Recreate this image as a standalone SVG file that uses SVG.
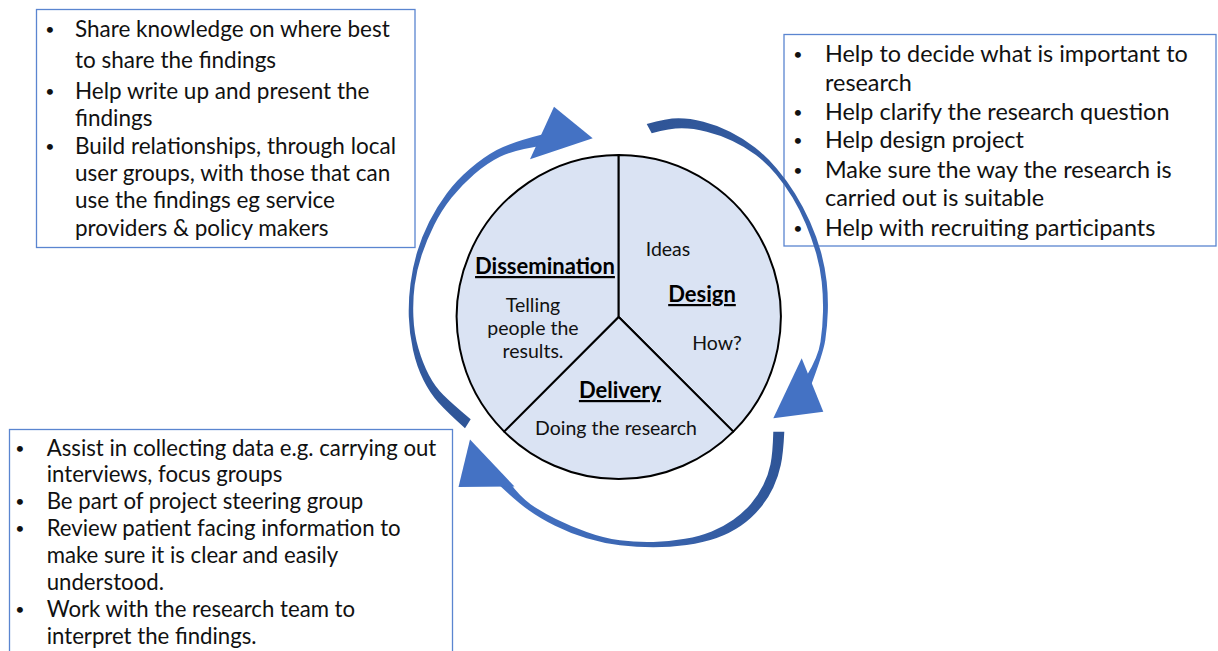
<svg xmlns="http://www.w3.org/2000/svg" width="1218" height="651" viewBox="0 0 1218 651">
<style>
.box{fill:#fff;stroke:#5a85d0;stroke-width:1.3}
.bt{font-family:Lato,"Liberation Sans",sans-serif;font-size:22.5px;fill:#111}
.b2{font-size:23.4px}
.b3{font-size:22.2px}
.bul{font-family:Lato,"Liberation Sans",sans-serif;font-size:16px;fill:#111;text-anchor:middle}
.seg{fill:#dae3f3;stroke:#000;stroke-width:2;stroke-linejoin:round}
.hd{font-family:Lato,"Liberation Sans",sans-serif;font-weight:bold;font-size:22px;text-decoration:underline;text-anchor:middle;fill:#000}
.st{font-family:Lato,"Liberation Sans",sans-serif;font-size:19.5px;text-anchor:middle;fill:#111}
.head{fill:#4472c4}
</style>
<defs>
<linearGradient id="g1" gradientUnits="userSpaceOnUse" x1="465" y1="425" x2="545" y2="140"><stop offset="0" stop-color="#2f5597"/><stop offset="1" stop-color="#4472c4"/></linearGradient>
<linearGradient id="g2" gradientUnits="userSpaceOnUse" x1="650" y1="128" x2="810" y2="385"><stop offset="0" stop-color="#2f5597"/><stop offset="1" stop-color="#4472c4"/></linearGradient>
<linearGradient id="g3" gradientUnits="userSpaceOnUse" x1="779" y1="432" x2="500" y2="485"><stop offset="0" stop-color="#2f5597"/><stop offset="1" stop-color="#4472c4"/></linearGradient>
</defs>

<g id="box-dissemination-roles">
<rect class="box" x="36.5" y="9.5" width="378.5" height="238"/>
<text class="bul" x="50" y="35">•</text>
<text class="bt" x="75" y="37">Share knowledge on where best</text>
<text class="bt" x="75" y="68">to share the findings</text>
<text class="bul" x="50" y="97">•</text>
<text class="bt" x="75" y="99">Help write up and present the</text>
<text class="bt" x="75" y="126">findings</text>
<text class="bul" x="50" y="152">•</text>
<text class="bt" x="75" y="154">Build relationships, through local</text>
<text class="bt" x="75" y="181">user groups, with those that can</text>
<text class="bt" x="75" y="208">use the findings eg service</text>
<text class="bt" x="75" y="236">providers &amp; policy makers</text>
</g>

<g id="box-design-roles">
<rect class="box" x="784" y="34.5" width="432" height="211.5"/>
<text class="bul" x="798" y="60">•</text>
<text class="bt b2" x="825" y="62">Help to decide what is important to</text>
<text class="bt b2" x="825" y="90.5">research</text>
<text class="bul" x="798" y="117.5">•</text>
<text class="bt b2" x="825" y="119.5">Help clarify the research question</text>
<text class="bul" x="798" y="146.3">•</text>
<text class="bt b2" x="825" y="148.3">Help design project</text>
<text class="bul" x="798" y="175.5">•</text>
<text class="bt b2" x="825" y="177.5">Make sure the way the research is</text>
<text class="bt b2" x="825" y="206">carried out is suitable</text>
<text class="bul" x="798" y="233.5">•</text>
<text class="bt b2" x="825" y="235.5">Help with recruiting participants</text>
</g>

<g id="box-delivery-roles">
<rect class="box" x="9.5" y="429.5" width="443" height="235"/>
<text class="bul" x="20" y="454">•</text>
<text class="bt b3" x="46.7" y="456">Assist in collecting data e.g. carrying out</text>
<text class="bt b3" x="46.7" y="482">interviews, focus groups</text>
<text class="bul" x="20" y="507">•</text>
<text class="bt b3" x="46.7" y="509">Be part of project steering group</text>
<text class="bul" x="20" y="534">•</text>
<text class="bt b3" x="46.7" y="536">Review patient facing information to</text>
<text class="bt b3" x="46.7" y="563">make sure it is clear and easily</text>
<text class="bt b3" x="46.7" y="590">understood.</text>
<text class="bul" x="20" y="615">•</text>
<text class="bt b3" x="46.7" y="617">Work with the research team to</text>
<text class="bt b3" x="46.7" y="644">interpret the findings.</text>
</g>

<g id="segment-dissemination">
<path class="seg" d="M618.7,317 L618.7,155 A162,162 0 0 0 504.2,431.6 Z"/>
<text class="hd" x="545" y="274">Dissemination</text>
<text class="st" x="533" y="311.7">Telling</text>
<text class="st" x="533" y="335">people the</text>
<text class="st" x="533" y="357.7">results.</text>
</g>

<g id="segment-design">
<path class="seg" d="M618.7,317 L618.7,155 A162,162 0 0 1 733.3,431.6 Z"/>
<text class="st" x="668" y="256">Ideas</text>
<text class="hd" x="702" y="302">Design</text>
<text class="st" x="717" y="350">How?</text>
</g>

<g id="segment-delivery">
<path class="seg" d="M618.7,317 L733.3,431.6 A162,162 0 0 1 504.2,431.6 Z"/>
<text class="hd" x="620" y="398">Delivery</text>
<text class="st" x="616" y="435">Doing the research</text>
</g>

<g id="connectors">
<g id="arrow-dissemination-to-design">
<path fill="url(#g1)" d="M544,134 Q510,142.7 496.7,150 Q483.3,157.3 470,168.7 Q456.7,180 446.7,193.4 Q436.7,206.7 429.2,221.7 Q421.7,236.7 417.2,251.7 Q412.7,266.7 410.5,283.4 Q408.3,300 408.8,316.7 Q409.3,333.3 413,350 Q416.7,366.7 423.4,380 Q430,393.3 438.4,402.5 Q446.7,411.7 465,428.3 L470.7,419.3 Q451.7,403.3 443.4,395 Q435,386.7 428.9,375 Q422.7,363.3 418.4,348.3 Q414,333.3 413.4,316.7 Q412.7,300 414.7,285 Q416.7,270 421.7,255 Q426.7,240 434.2,225 Q441.7,210 451.7,197.5 Q461.7,185 474.2,174.2 Q486.7,163.3 500,156.7 Q513.3,150 546,145 Z"/>
<polygon class="head" points="554,106.7 592.7,138.3 530,159.3"/>
</g>
<g id="arrow-design-to-delivery">
<path fill="url(#g2)" d="M646.7,124 Q666.7,118.3 678.4,118.3 Q690,118.3 703.4,121.7 Q716.7,125 730,131.7 Q743.3,138.3 755,147.5 Q766.7,156.7 776.7,168.4 Q786.7,180 795,193.4 Q803.3,206.7 810,221.7 Q816.7,236.7 820.9,251.7 Q825,266.7 826.7,281.7 Q828.3,296.7 827.8,311.7 Q827.3,326.7 825.3,340 Q823.3,353.3 810,388 L806,377 Q818.3,356.7 820.5,341.7 Q822.7,326.7 823,311.7 Q823.3,296.7 821.7,281.7 Q820,266.7 815.9,252.5 Q811.7,238.3 805.9,224.2 Q800,210 792.5,197.5 Q785,185 775.9,174.2 Q766.7,163.3 755.9,155 Q745,146.7 732.5,140.9 Q720,135 706.7,131.7 Q693.3,128.3 681.7,128.3 Q670,128.3 651.7,133.3 Z"/>
<polygon class="head" points="801.7,358.3 823.3,411.7 773.3,418.3"/>
</g>
<g id="arrow-delivery-to-dissemination">
<path fill="url(#g3)" d="M784.3,431.7 Q783.3,453.3 780.8,465 Q778.3,476.7 773.3,487.5 Q768.3,498.3 760,508.3 Q751.7,518.3 740.9,525.8 Q730,533.3 716.7,538 Q703.3,542.7 686.7,545 Q670,547.3 653.4,547.3 Q636.7,547.3 620,545.3 Q603.3,543.3 586.7,538.3 Q570,533.3 555,525.8 Q540,518.3 528.4,510 Q516.7,501.7 497,483 L510,483 Q520,496.7 530.9,504.4 Q541.7,512 555.9,519 Q570,526 586.7,532 Q603.3,538 620,540.3 Q636.7,542.5 653.4,542 Q670,541.5 685,538.8 Q700,536 711.7,531.4 Q723.3,526.7 733.3,519.7 Q743.3,512.7 750.8,503.9 Q758.3,495 763.3,485 Q768.3,475 770.5,464.2 Q772.7,453.3 773.3,431.7 Z"/>
<polygon class="head" points="470,439.5 514.5,486.5 458.5,487"/>
</g>
</g>
</svg>
